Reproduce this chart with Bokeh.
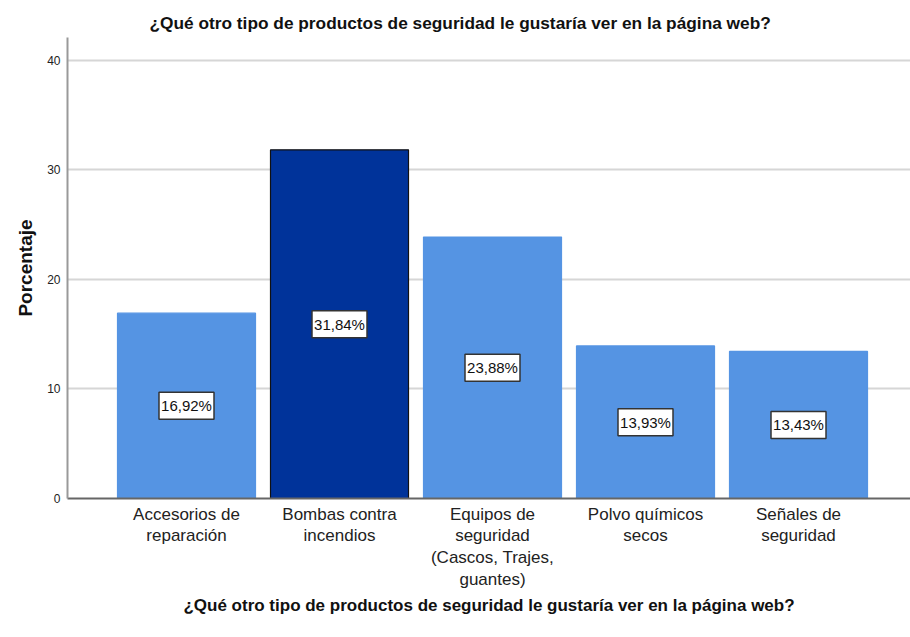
from bokeh.plotting import figure
from bokeh.models import Range1d, FixedTicker, ColumnDataSource, Title
from bokeh.core.properties import value
from bokeh.embed import file_html
from bokeh.resources import INLINE

# ---- data ----
title_text = "¿Qué otro tipo de productos de seguridad le gustaría ver en la página web?"
categories = [
    "Accesorios de\nreparación",
    "Bombas contra\nincendios",
    "Equipos de\nseguridad\n(Cascos, Trajes,\nguantes)",
    "Polvo químicos\nsecos",
    "Señales de\nseguridad",
]
percentages = [16.92, 31.84, 23.88, 13.93, 13.43]
y_ticks = [0, 10, 20, 30, 40]

# ---- style ----
LIGHT = "#5594E3"
DARK = "#00339A"
bar_colors = [LIGHT, DARK, LIGHT, LIGHT, LIGHT]
bar_lines = [LIGHT, "#111111", LIGHT, LIGHT, LIGHT]
FONT = "Liberation Sans"

positions = list(range(len(categories)))
label_texts = [("%.2f%%" % v).replace(".", ",") for v in percentages]
label_y = [v / 2 for v in percentages]

src = ColumnDataSource(dict(x=positions, top=percentages, fill=bar_colors,
                            line=bar_lines, ly=label_y, lt=label_texts))

p = figure(width=910, height=637, output_backend="svg", toolbar_location=None,
           x_range=Range1d(-0.7778, 4.732), y_range=Range1d(0, 42.1),
           min_border_left=67, min_border_top=37, min_border_right=0,
           min_border_bottom=139)
p.title = None
p.outline_line_color = None
p.background_fill_color = "white"
p.border_fill_color = "white"

p.add_layout(Title(text=title_text, align="left", offset=82,
                   text_font=FONT, text_font_size="17.3px",
                   text_font_style="bold", text_color="#111111"), "above")

p.vbar(x="x", top="top", width=0.902, source=src, fill_color="fill",
       line_color="line", line_width=1.2)

# value boxes
p.rect(x="x", y="ly", width=55, height=27, width_units="screen",
       height_units="screen", source=src, fill_color="white",
       line_color="#333333", line_width=1.5)
p.text(x="x", y="ly", text="lt", source=src, text_align="center",
       text_baseline="middle", text_font=value(FONT),
       text_font_size="15px", text_color="#111111")

# grid
p.xgrid.grid_line_color = None
p.ygrid.ticker = FixedTicker(ticks=y_ticks)
p.ygrid.grid_line_color = "#D6D6D6"
p.ygrid.grid_line_width = 2
p.ygrid.level = "underlay"

# y axis
p.yaxis.ticker = FixedTicker(ticks=y_ticks)
p.yaxis.major_tick_line_color = None
p.yaxis.major_tick_out = 0
p.yaxis.major_tick_in = 0
p.yaxis.minor_tick_line_color = None
p.yaxis.axis_line_color = "#999999"
p.yaxis.axis_line_width = 2
p.yaxis.major_label_text_font = FONT
p.yaxis.major_label_text_font_size = "12px"
p.yaxis.major_label_text_color = "#222222"
p.yaxis.major_label_standoff = 7
p.yaxis.axis_label = "Porcentaje"
p.yaxis.axis_label_text_font = FONT
p.yaxis.axis_label_text_font_size = "19px"
p.yaxis.axis_label_text_font_style = "bold"
p.yaxis.axis_label_text_color = "#111111"
p.yaxis.axis_label_standoff = 8

# x axis
p.xaxis.ticker = FixedTicker(ticks=positions)
p.xaxis.major_label_overrides = {i: c for i, c in zip(positions, categories)}
p.xaxis.major_tick_line_color = None
p.xaxis.major_tick_out = 0
p.xaxis.major_tick_in = 0
p.xaxis.minor_tick_line_color = None
p.xaxis.axis_line_color = "#666666"
p.xaxis.axis_line_width = 2
p.xaxis.major_label_text_font = FONT
p.xaxis.major_label_text_font_size = "17px"
p.xaxis.major_label_text_line_height = 1.15
p.xaxis.major_label_text_color = "#222222"
p.xaxis.major_label_standoff = 6
p.xaxis.axis_label = title_text
p.xaxis.axis_label_text_font = FONT
p.xaxis.axis_label_text_font_size = "17px"
p.xaxis.axis_label_text_font_style = "bold"
p.xaxis.axis_label_text_color = "#111111"
p.xaxis.axis_label_standoff = 4

open("out.html", "w").write(file_html(p, INLINE))
